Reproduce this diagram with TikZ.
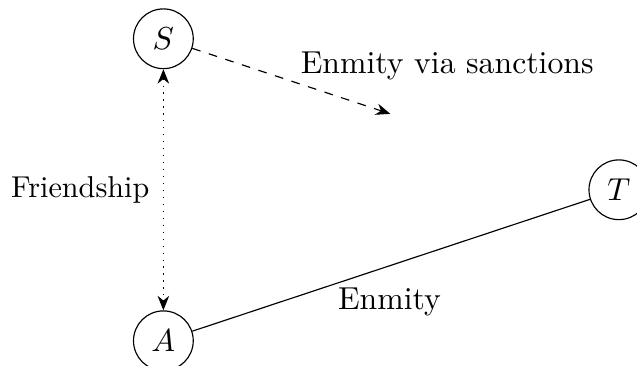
\documentclass[11pt,tikz,border=0pt]{standalone}
\usetikzlibrary{arrows.meta}

\tikzset{
  actor/.style={draw, circle, minimum size=20.6pt, inner sep=0pt},
  tie/.style={-{Stealth[length=5pt,width=4pt]}}
}

\begin{document}
\begin{tikzpicture}
  \useasboundingbox (-1.98,-0.30) rectangle (5.74,4.13);
  % players
  \node[actor] (A) at (0,0)       {$A$};
  \node[actor] (S) at (0,3.66)    {$S$};
  \node[actor] (T) at (5.52,1.83) {$T$};
  \coordinate (sanc) at (2.75,2.75);
  % ties
  \draw[dotted, {Stealth[length=5pt,width=4pt]}-{Stealth[length=5pt,width=4pt]}] (S) -- node[left, xshift=-1pt, font=\fontsize{10.4}{12.5}\selectfont] {Friendship} (A);
  \draw[tie, dashed] (S) -- (sanc);
  \draw (A) -- (T);
  \node (via)    at (3.44,3.33) {Enmity via sanctions};
  \node (enmity) at (2.74,0.47) {Enmity};
\end{tikzpicture}
\end{document}
